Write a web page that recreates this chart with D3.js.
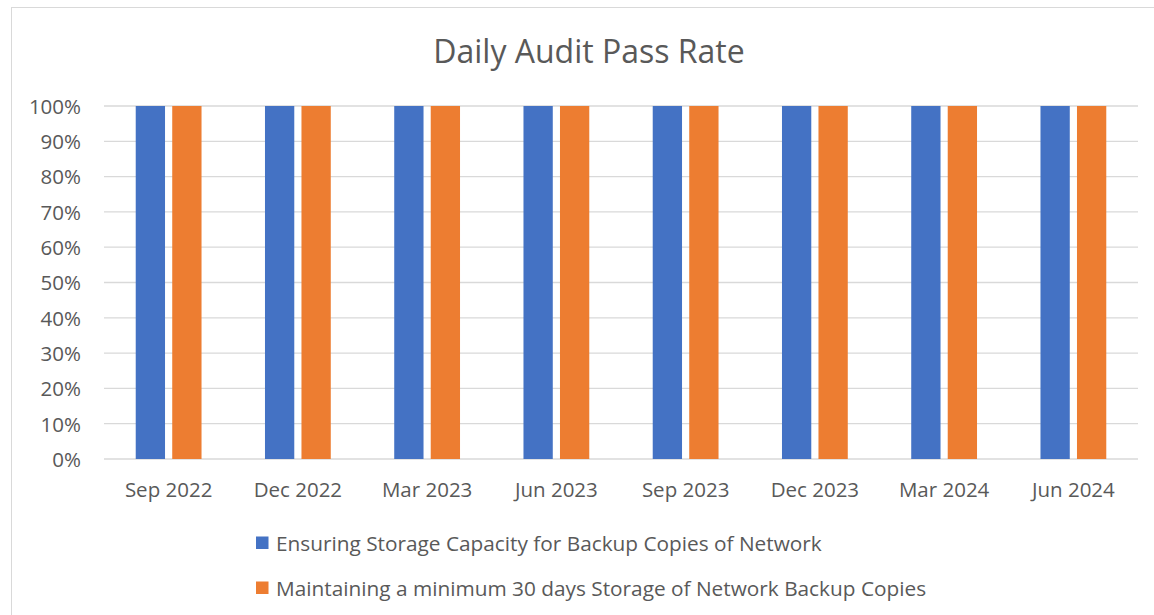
<!DOCTYPE html>
<html lang="en">
<head>
  <meta charset="UTF-8">
  <script src="https://cdn.jsdelivr.net/npm/d3@7"></script>
  <title>Daily Audit Pass Rate</title>
  <style>
    body { margin: 0; background: #fff; }
    text { font-family: "Open Sans", "Noto Sans", sans-serif; fill: #595959; }
  </style>
</head>
<body>
<script>
  // chart data
  const quarters = ["Sep 2022", "Dec 2022", "Mar 2023", "Jun 2023", "Sep 2023", "Dec 2023", "Mar 2024", "Jun 2024"];
  const seriesNames = [
    "Ensuring Storage Capacity for Backup Copies of Network",
    "Maintaining a minimum 30 days Storage of Network Backup Copies"
  ];
  const capacityRate = [1, 1, 1, 1, 1, 1, 1, 1];
  const retentionRate = [1, 1, 1, 1, 1, 1, 1, 1];
  const yTicks = [0, 0.1, 0.2, 0.3, 0.4, 0.5, 0.6, 0.7, 0.8, 0.9, 1];
  const colors = ["#4472C4", "#ED7D31"];

  const w = 1154, h = 615;
  const svg = d3.select("body").append("svg")
    .attr("width", w)
    .attr("height", h);

  // chart frame
  svg.append("rect")
    .attr("x", 11.5).attr("y", 7.5)
    .attr("width", w).attr("height", h)
    .attr("fill", "none")
    .attr("stroke", "#d9d9d9");

  svg.append("text")
    .attr("x", 589).attr("y", 63)
    .attr("text-anchor", "middle")
    .style("font-size", "32px")
    .text("Daily Audit Pass Rate");

  const x = d3.scaleBand().domain(quarters).range([104, 1138]);
  const y = d3.scaleLinear().domain([0, 1]).range([459, 106]);

  // gridlines
  svg.append("g").selectAll("line")
    .data(yTicks)
    .enter().append("line")
    .attr("x1", 104).attr("x2", 1138)
    .attr("y1", d => y(d)).attr("y2", d => y(d))
    .attr("stroke", "#d9d9d9")
    .attr("stroke-width", 1.3);

  const yAxis = svg.append("g")
    .attr("transform", "translate(81,0)")
    .call(d3.axisLeft(y).tickValues(yTicks).tickFormat(d3.format(".0%")).tickSize(0).tickPadding(0));
  yAxis.select(".domain").remove();
  yAxis.selectAll("text").style("font-size", "20.5px").attr("dy", "0.36em");

  const xAxis = svg.append("g")
    .attr("transform", "translate(0,459)")
    .call(d3.axisBottom(x).tickSize(0).tickPadding(0));
  xAxis.select(".domain").remove();
  xAxis.selectAll("text").style("font-size", "20.5px").attr("y", 38).attr("dy", 0);

  const barW = 29.3, gap = 7.2;
  const series = [capacityRate, retentionRate];
  series.forEach((vals, i) => {
    svg.append("g").selectAll("rect")
      .data(vals)
      .enter().append("rect")
      .attr("x", (d, j) => x(quarters[j]) + x.bandwidth() / 2 + (i === 0 ? -gap / 2 - barW : gap / 2))
      .attr("y", d => y(d))
      .attr("width", barW)
      .attr("height", d => y(0) - y(d))
      .attr("fill", colors[i]);
  });

  // legend
  const legend = svg.append("g").selectAll("g")
    .data(seriesNames)
    .enter().append("g")
    .attr("transform", (d, i) => "translate(256," + (543 + i * 45) + ")");
  legend.append("rect")
    .attr("x", 0).attr("y", -6.5)
    .attr("width", 12.5).attr("height", 12.5)
    .attr("fill", (d, i) => colors[i]);
  legend.append("text")
    .attr("x", 20).attr("y", 0)
    .attr("dy", "0.36em")
    .style("font-size", "20.8px")
    .text(d => d);
</script>
</body>
</html>
